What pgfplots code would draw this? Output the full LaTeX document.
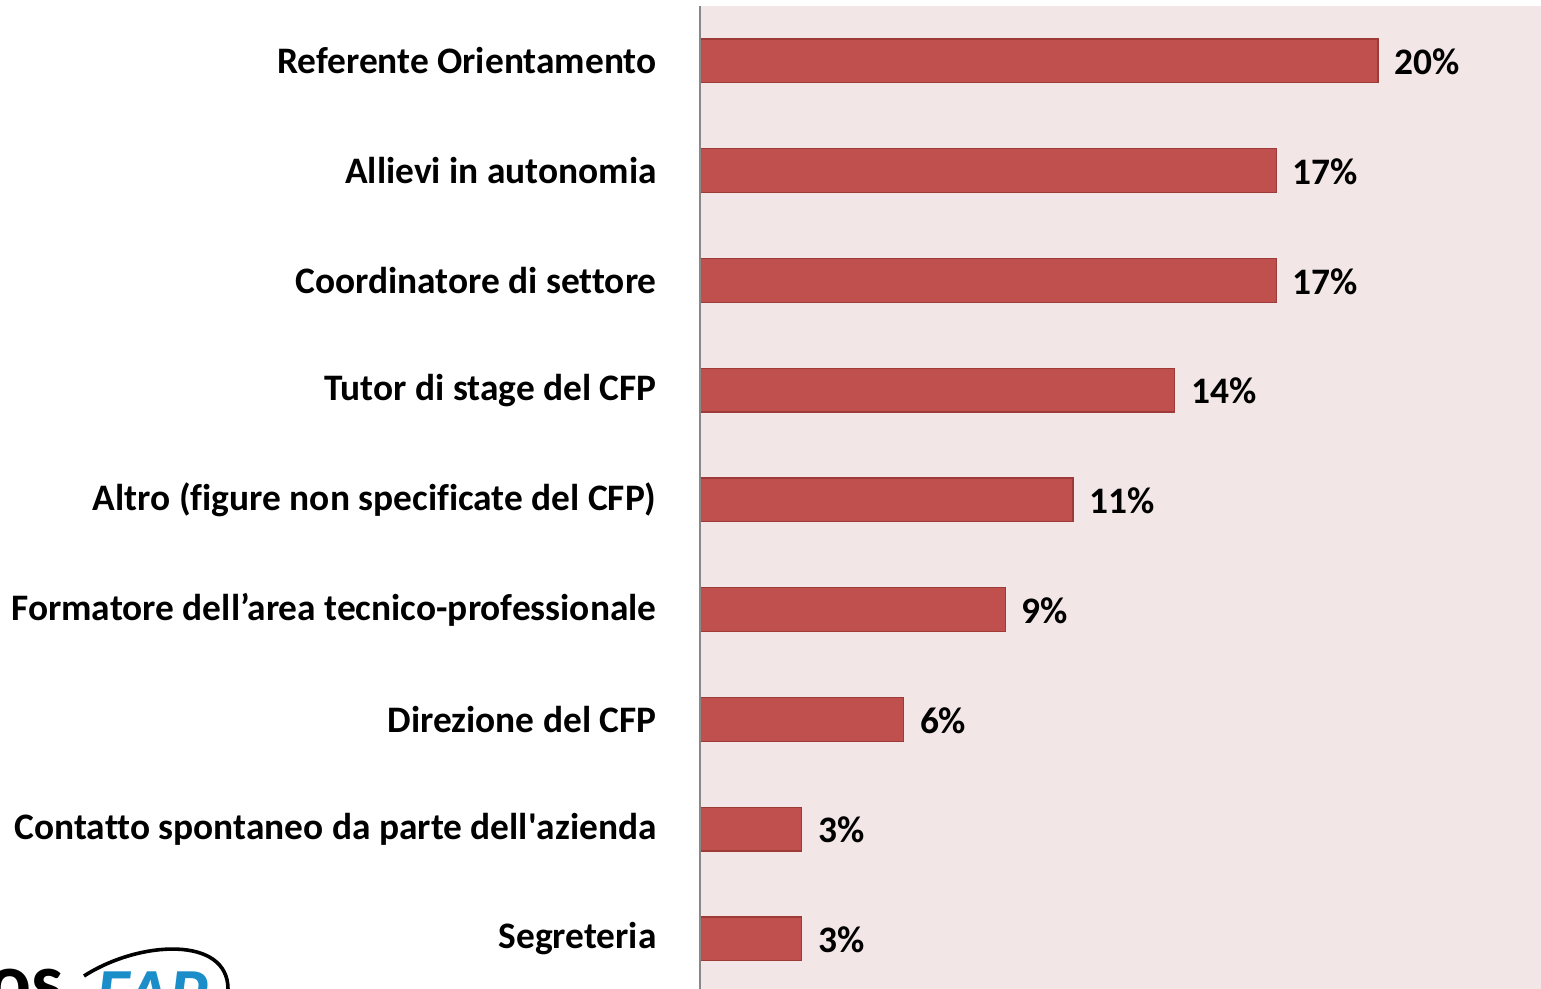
\documentclass[border=0pt]{standalone}
\usepackage{pgfplots}
\pgfplotsset{compat=1.18}
\usepackage{fontspec}
\setmainfont{Carlito}[Ligatures={TeX,NoCommon}]
\newfontfamily\plainfont{Carlito}[Ligatures=NoCommon]
\definecolor{barfill}{HTML}{C0504D}
\definecolor{barline}{HTML}{9E3B38}
\definecolor{plotbg}{HTML}{F2E7E6}
\definecolor{axgray}{HTML}{888888}
\definecolor{logoblue}{HTML}{1B8DC9}
\begin{document}
\begin{tikzpicture}
\useasboundingbox (0pt,0pt) rectangle (770.5pt,-494.5pt);
\begin{scope}
\clip (0pt,0pt) rectangle (770.5pt,-494.5pt);
\begin{axis}[
  at={(350pt,-3pt)}, anchor=north west,
  width=423.75pt, height=493.875pt, scale only axis,
  xbar, bar width=0.4,
  xmin=0, xmax=25, ymin=-0.5, ymax=8.5,
  axis background/.style={fill=plotbg},
  axis line style={draw=none},
  hide x axis,
  ytick={0,...,8}, major tick length=0pt,
  yticklabels={Segreteria,
    {Contatto spontaneo da parte dell{\plainfont\bfseries'}azienda},
    Direzione del CFP,
    Formatore dell’area tecnico-professionale,
    Altro (figure non specificate del CFP),
    Tutor di stage del CFP,
    Coordinatore di settore,
    Allievi in autonomia,
    Referente Orientamento},
  yticklabel style={font=\fontsize{18.7}{22}\selectfont\bfseries, anchor=east, inner sep=0pt, xshift=-21.5pt},
  nodes near coords={\pgfmathprintnumber[assume math mode=true]{\pgfplotspointmeta}\%},
  point meta=x,
  every node near coord/.append style={font=\fontsize{18.7}{22}\selectfont\bfseries, anchor=west, inner sep=0pt, xshift=8pt, yshift=-0.5pt},
  clip=false,
]
\addplot[fill=barfill, draw=barline, line width=0.6pt] coordinates {
  (3,0) (3,1) (6,2) (9,3) (11,4) (14,5) (17,6) (17,7) (20,8)
};
\draw[axgray, line width=1pt] (axis cs:0,-0.6) -- (axis cs:0,8.5);
\end{axis}
% partial logo at bottom left
\node[anchor=north west, inner sep=0pt, font=\fontsize{40}{40}\selectfont\bfseries] at (-6pt,-484.5pt) {os};
\node[anchor=north west, inner sep=0pt, font=\fontsize{36}{36}\selectfont\bfseries\itshape, text=logoblue] at (48pt,-485.5pt) {FAP};
\draw[black, line width=1.8pt] (42pt,-488pt) .. controls (70pt,-470pt) and (114pt,-468pt) .. (114pt,-494.5pt);
\end{scope}
\end{tikzpicture}
\end{document}
